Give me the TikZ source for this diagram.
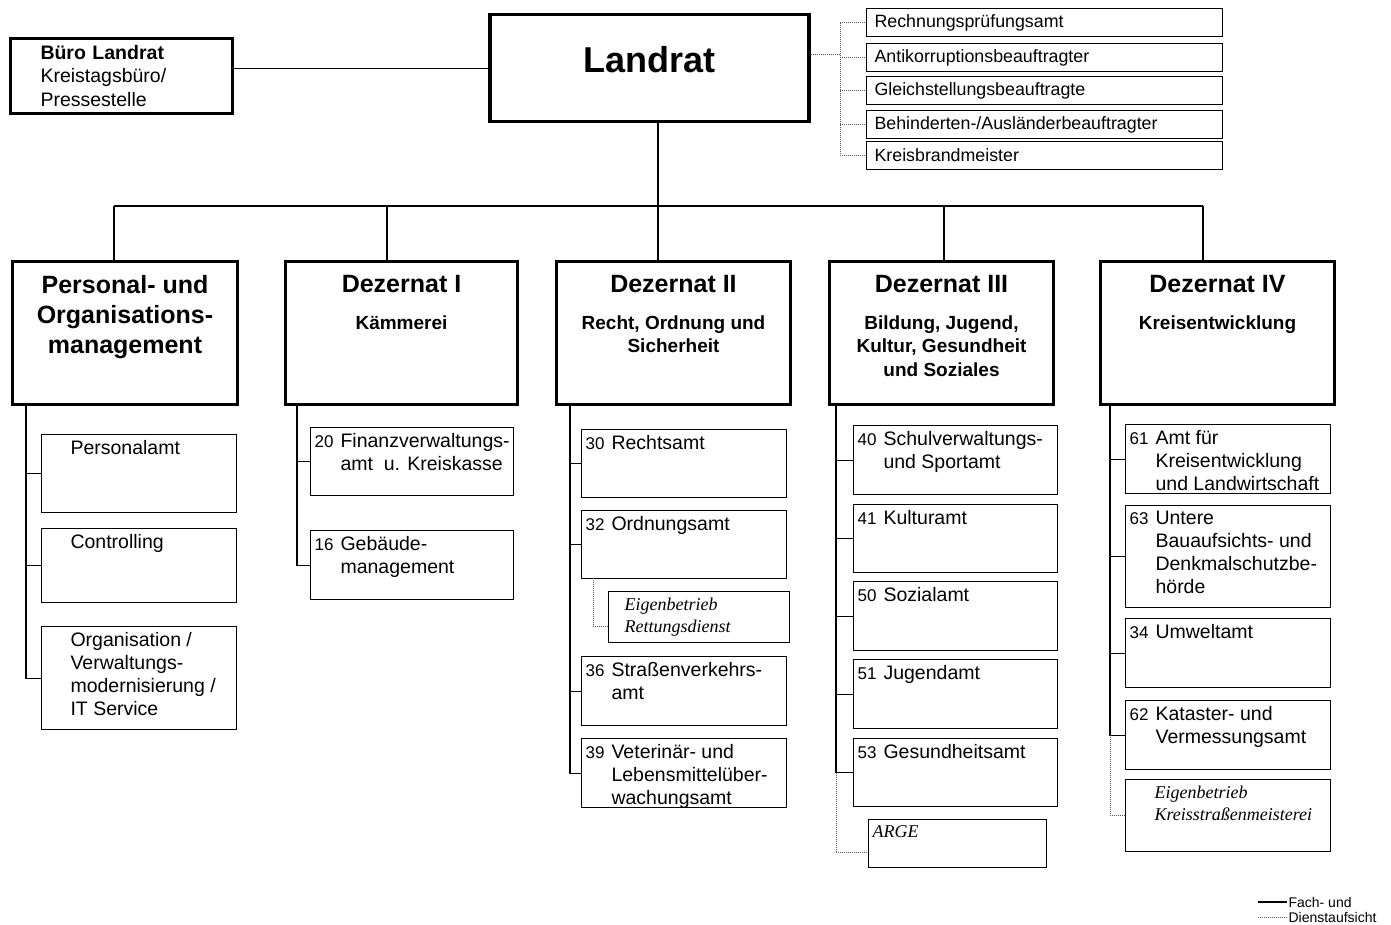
\documentclass[tikz,border=0pt]{standalone}
\usepackage{fontspec}
\setmainfont{Liberation Sans}
\newfontfamily\kursiv{Liberation Serif}
\newcommand{\feld}[3]{\parbox[c][#2pt][t]{#1pt}{\vspace*{6pt}\hyphenpenalty=10000\leftskip=4pt\rightskip=0pt plus 1fil\relax #3\par}}
\newcommand{\nr}[2]{\hangindent=26pt\hangafter=1\makebox[26pt][l]{\fontsize{17}{19}\selectfont #1}#2}
\newcommand{\dezkopf}[4]{\parbox[c][#2pt][t]{#1pt}{\centering\vspace*{14pt}{\fontsize{25}{30}\selectfont\bfseries #3\par}\vspace{13pt}{\fontsize{19}{23.5}\selectfont\bfseries #4\par}}}
\begin{document}
\begin{tikzpicture}[x=1pt,y=-1pt,line width=1.1pt,
  chef/.style={draw,line width=3.5pt,anchor=north west,minimum width=319pt,minimum height=107pt,text depth=18pt,font=\fontsize{36}{40}\selectfont\bfseries},
  buero/.style={draw,line width=3pt,anchor=north west,align=left,text width=162pt,inner xsep=30pt,minimum height=75pt,font=\fontsize{19.5}{23.5}\selectfont},
  stab/.style={draw,anchor=north west,align=left,text width=340pt,inner xsep=8pt,inner ysep=0pt,minimum height=28pt,font=\fontsize{17.8}{20}\selectfont},
  dez/.style={draw,line width=3pt,anchor=north west,inner sep=0pt},
  amt/.style={draw,anchor=north west,inner sep=0pt,font=\fontsize{19.5}{23}\selectfont},
  eigen/.style={amt,font=\kursiv\itshape\fontsize{18}{22}\selectfont},
  dienst/.style={densely dotted,line width=1pt,black!65}]
\useasboundingbox (0,0) rectangle (1391,925);
\node[chef] (landrat) at (488,13) {Landrat};
\node[buero] (buero) at (9,37) {\textbf{Büro Landrat}\\Kreistagsbüro/\\Pressestelle};
\node[stab] (rpa) at (866,8) {Rechnungsprüfungsamt};
\node[stab] (akb) at (866,43) {Antikorruptionsbeauftragter};
\node[stab] (gsb) at (866,76) {Gleichstellungsbeauftragte};
\node[stab] (bab) at (866,110) {Behinderten-/Ausländerbeauftragter};
\node[stab] (kbm) at (866,141) {Kreisbrandmeister};
\node[dez] (pom) at (11,260) {\dezkopf{225}{143}{Personal- und\\Organisations-\\management}{}};
\node[dez] (dez1) at (284,260) {\dezkopf{232}{143}{Dezernat I}{Kämmerei}};
\node[dez] (dez2) at (555,260) {\dezkopf{234}{143}{Dezernat II}{Recht, Ordnung und\\Sicherheit}};
\node[dez] (dez3) at (828,260) {\dezkopf{224}{143}{Dezernat III}{Bildung, Jugend,\\Kultur, Gesundheit\\und Soziales}};
\node[dez] (dez4) at (1099,260) {\dezkopf{234}{143}{Dezernat IV}{Kreisentwicklung}};
\node[amt] (pa) at (41,434) {\feld{195}{78}{\leftskip=29pt Personalamt}};
\node[amt] (ctrl) at (41,528) {\feld{195}{74}{\leftskip=29pt Controlling}};
\node[amt] (org) at (41,626) {\feld{195}{103}{\leftskip=29pt Organisation /\\Verwaltungs-\\modernisierung /\\IT Service}};
\node[amt] (a20) at (310,427) {\feld{203}{68}{\nr{20}{Finanzverwaltungs-\\amt\ \ u. Kreiskasse}}};
\node[amt] (a16) at (310,530) {\feld{203}{69}{\nr{16}{Gebäude-\\management}}};
\node[amt] (a30) at (581,429) {\feld{205}{68}{\nr{30}{Rechtsamt}}};
\node[amt] (a32) at (581,510) {\feld{205}{68}{\nr{32}{Ordnungsamt}}};
\node[eigen] (erd) at (608,591) {\feld{181}{51}{\leftskip=16pt Eigenbetrieb\\Rettungsdienst}};
\node[amt] (a36) at (581,656) {\feld{205}{69}{\nr{36}{Straßenverkehrs-\\amt}}};
\node[amt] (a39) at (581,738) {\feld{205}{69}{\nr{39}{Veterinär- und\\Lebensmittelüber-\\wachungsamt}}};
\node[amt] (a40) at (853,425) {\feld{204}{69}{\nr{40}{Schulverwaltungs-\\und Sportamt}}};
\node[amt] (a41) at (853,504) {\feld{204}{68}{\nr{41}{Kulturamt}}};
\node[amt] (a50) at (853,581) {\feld{204}{69}{\nr{50}{Sozialamt}}};
\node[amt] (a51) at (853,659) {\feld{204}{69}{\nr{51}{Jugendamt}}};
\node[amt] (a53) at (853,738) {\feld{204}{68}{\nr{53}{Gesundheitsamt}}};
\node[eigen] (arge) at (868,819) {\feld{178}{48}{ARGE}};
\node[amt] (a61) at (1125,424) {\feld{205}{69}{\nr{61}{Amt für\\Kreisentwicklung\\und Landwirtschaft}}};
\node[amt] (a63) at (1125,505) {\feld{205}{102}{\nr{63}{Untere\\Bauaufsichts- und\\Denkmalschutzbe-\\hörde}}};
\node[amt] (a34) at (1125,618) {\feld{205}{69}{\nr{34}{Umweltamt}}};
\node[amt] (a62) at (1125,700) {\feld{205}{69}{\nr{62}{Kataster- und\\Vermessungsamt}}};
\node[eigen] (ksm) at (1125,779) {\feld{205}{72}{\leftskip=29pt Eigenbetrieb\\Kreisstraßenmeisterei}};
\node[anchor=west,inner sep=1pt,font=\fontsize{14}{16}\selectfont] (lfach) at (1287,902) {Fach- und};
\node[anchor=west,inner sep=1pt,font=\fontsize{14}{16}\selectfont] (ldienst) at (1287,917) {Dienstaufsicht};
\coordinate (sv) at (840,55);
\coordinate (k1) at (114,206);
\coordinate (k2) at (387,206);
\coordinate (k3) at (658,206);
\coordinate (k4) at (944,206);
\coordinate (k5) at (1203,206);
\coordinate (s1) at (26,403);
\coordinate (s2) at (297,403);
\coordinate (s3) at (570,403);
\coordinate (s4) at (836,403);
\coordinate (s5) at (1110,403);
\coordinate (d3) at (593,578);
\coordinate (lf) at (1258,902);
\coordinate (ld) at (1258,917);
\draw (buero.east |- landrat.west) -- (landrat.west);
\draw[dienst] (landrat.east |- sv) -- (sv);
\draw[dienst] (sv |- rpa.west) -- (sv |- kbm.west);
\draw[dienst] (sv |- rpa.west) -- (rpa.west);
\draw[dienst] (sv |- akb.west) -- (akb.west);
\draw[dienst] (sv |- gsb.west) -- (gsb.west);
\draw[dienst] (sv |- bab.west) -- (bab.west);
\draw[dienst] (sv |- kbm.west) -- (kbm.west);
\draw (k1) -- (k5);
\draw (landrat.south -| k3) -- (k3 |- dez2.north);
\draw (k1) -- (k1 |- pom.north);
\draw (k2) -- (k2 |- dez1.north);
\draw (k4) -- (k4 |- dez3.north);
\draw (k5) -- (k5 |- dez4.north);
\draw (s1) |- (pa.west);
\draw (s1) |- (ctrl.west);
\draw (s1) |- (org.west);
\draw (s2) |- (a20.west);
\draw (s2) |- (a16.west);
\draw (s3) |- (a30.west);
\draw (s3) |- (a32.west);
\draw (s3) |- (a36.west);
\draw (s3) |- (a39.west);
\draw[dienst] (d3) |- ([yshift=-9pt]erd.west);
\draw (s4) |- (a40.west);
\draw (s4) |- (a41.west);
\draw (s4) |- (a50.west);
\draw (s4) |- (a51.west);
\draw (s4) |- (a53.west);
\draw[dienst] (s4 |- a53.west) |- ([yshift=-9pt]arge.west);
\draw (s5) |- (a61.west);
\draw (s5) |- (a63.west);
\draw (s5) |- (a34.west);
\draw (s5) |- (a62.west);
\draw[dienst] (s5 |- a62.west) |- (ksm.west);
\draw (lf) -- (lfach.west);
\draw[dienst] (ld) -- (ldienst.west);
\end{tikzpicture}
\end{document}
